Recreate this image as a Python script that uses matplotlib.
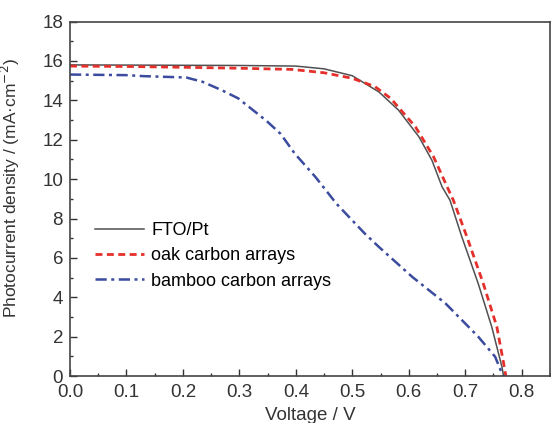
import numpy as np
import matplotlib.pyplot as plt
from matplotlib.ticker import MultipleLocator

plt.rcParams['font.family'] = ['Liberation Sans', 'DejaVu Sans']

# --> J-V curves
v_fto = [0.0, 0.1, 0.2, 0.3, 0.4, 0.45, 0.5, 0.547, 0.582, 0.618, 0.641, 0.659, 0.673,
         0.694, 0.723, 0.747, 0.765, 0.768]
j_fto = [15.8, 15.79, 15.78, 15.77, 15.74, 15.6, 15.25, 14.43, 13.5, 12.15, 10.96, 9.61, 8.93,
         7.07, 4.7, 2.5, 0.47, 0.0]

v_oak = [0.0, 0.1, 0.2, 0.3, 0.394, 0.45, 0.5, 0.54, 0.568, 0.612, 0.644, 0.668, 0.679,
         0.703, 0.732, 0.756, 0.768, 0.772]
j_oak = [15.74, 15.72, 15.68, 15.63, 15.57, 15.4, 15.12, 14.7, 14.1, 12.65, 11.13, 9.61, 8.93,
         7.07, 4.7, 2.5, 0.66, 0.0]

v_bam = [0.0, 0.1, 0.129, 0.206, 0.235, 0.27, 0.298, 0.348, 0.373, 0.398, 0.435, 0.472,
         0.522, 0.547, 0.606, 0.665, 0.723, 0.753, 0.765, 0.768]
j_bam = [15.31, 15.28, 15.23, 15.16, 14.94, 14.5, 14.1, 12.96, 12.3, 11.3, 10.1, 8.75,
         7.24, 6.56, 5.04, 3.69, 2.0, 0.98, 0.14, 0.0]

labels = ['FTO/Pt', 'oak carbon arrays', 'bamboo carbon arrays']

fig = plt.figure(figsize=(5.51, 4.23), dpi=100)
ax = fig.add_axes([0.127, 0.111, 0.871, 0.838])

ax.plot(v_fto, j_fto, color='#505050', lw=1.1, label=labels[0])
ax.plot(v_oak, j_oak, color='#e42f2a', lw=2.0, ls=(0, (2.5, 1.6)), label=labels[1])
ax.plot(v_bam, j_bam, color='#3b4b9e', lw=1.8, ls=(0, (4.5, 1.8, 1.2, 1.8)), label=labels[2])

ax.set_xlim(0, 0.85)
ax.set_ylim(0, 18)
ax.xaxis.set_major_locator(MultipleLocator(0.1))
ax.xaxis.set_minor_locator(MultipleLocator(0.05))
ax.yaxis.set_major_locator(MultipleLocator(2))
ax.yaxis.set_minor_locator(MultipleLocator(1))
ax.xaxis.set_major_formatter(plt.FuncFormatter(lambda x, p: f'{x:.1f}'))

ax.tick_params(which='both', direction='in', top=False, right=False,
               labelsize=13.5, colors='#333333', width=1.0)
ax.tick_params(axis='x', which='major', length=5, pad=6)
ax.tick_params(axis='y', which='major', length=5, pad=5)
ax.tick_params(which='minor', length=2.5)
for s in ax.spines.values():
    s.set_linewidth(1.2)
    s.set_color('#444444')

ax.set_xlabel('Voltage / V', fontsize=13.5, color='#333333', labelpad=4)
ax.set_ylabel('Photocurrent density / (mA\u00b7cm$^{-2}$)', fontsize=12.5,
              color='#333333')
ax.yaxis.set_label_coords(-0.1, 0.53)

ax.legend(frameon=False, fontsize=13, loc='upper left', bbox_to_anchor=(0.038, 0.455),
          handlelength=2.7, handletextpad=0.4, labelspacing=0.46, borderaxespad=0)

plt.savefig('out.png', dpi=100)
